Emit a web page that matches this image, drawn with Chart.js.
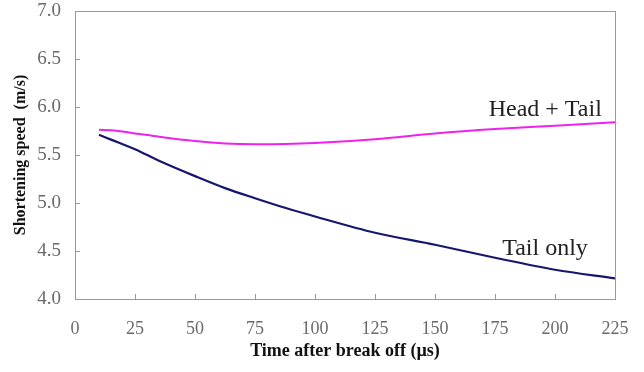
<!DOCTYPE html>
<html>
<head>
<meta charset="utf-8">
<script src="https://cdn.jsdelivr.net/npm/chart.js@4.4.0/dist/chart.umd.min.js"></script>
<style>
  html, body { margin: 0; padding: 0; background: #fff; }
  #wrap { width: 644px; height: 372px; }
</style>
</head>
<body>
<div id="wrap"><canvas id="chart"></canvas></div>
<script>
// time after break off (µs)
const times = [10, 15, 25, 35, 50, 62.5, 75, 87.5, 100, 125, 150, 175, 200, 225];
// shortening speed (m/s)
const headTail = [5.762, 5.758, 5.725, 5.69, 5.645, 5.62, 5.612, 5.614, 5.624, 5.664, 5.724, 5.77, 5.805, 5.84];
const tailOnly = [5.71, 5.66, 5.56, 5.44, 5.28, 5.155, 5.05, 4.95, 4.86, 4.69, 4.565, 4.43, 4.305, 4.215];
const xTicks = [0, 25, 50, 75, 100, 125, 150, 175, 200, 225];
const yTicks = [4.0, 4.5, 5.0, 5.5, 6.0, 6.5, 7.0];

const serif = '"Liberation Serif", "Times New Roman", serif';

// box around the plot + ticks pointing inward
const frame = {
  id: 'frame',
  afterDraw(chart) {
    const { ctx, chartArea: a, scales: { x, y } } = chart;
    ctx.save();
    ctx.strokeStyle = '#9a9a9a';
    ctx.lineWidth = 1;
    ctx.strokeRect(a.left + 0.5, a.top + 0.5, a.right - a.left, a.bottom - a.top);
    ctx.beginPath();
    xTicks.forEach(v => {
      const px = Math.round(x.getPixelForValue(v)) + 0.5;
      ctx.moveTo(px, a.bottom);
      ctx.lineTo(px, a.bottom - 5);
    });
    yTicks.forEach(v => {
      const py = Math.round(y.getPixelForValue(v)) + 0.5;
      ctx.moveTo(a.left, py);
      ctx.lineTo(a.left + 5, py);
    });
    ctx.stroke();

    // series labels
    ctx.fillStyle = '#222';
    ctx.font = '24px ' + serif;
    ctx.textBaseline = 'alphabetic';
    ctx.textAlign = 'right';
    ctx.fillText('Head + Tail', x.getPixelForValue(219.5), y.getPixelForValue(5.905));
    ctx.textAlign = 'left';
    ctx.fillText('Tail only', x.getPixelForValue(178), y.getPixelForValue(4.455));
    ctx.restore();
  }
};

new Chart(document.getElementById('chart'), {
  type: 'line',
  data: {
    datasets: [
      {
        label: 'Head + Tail',
        data: times.map((t, i) => ({ x: t, y: headTail[i] })),
        borderColor: '#ee22ee',
        borderWidth: 2,
        pointRadius: 0,
        cubicInterpolationMode: 'monotone'
      },
      {
        label: 'Tail only',
        data: times.map((t, i) => ({ x: t, y: tailOnly[i] })),
        borderColor: '#16166e',
        borderWidth: 2.2,
        pointRadius: 0,
        cubicInterpolationMode: 'monotone'
      }
    ]
  },
  options: {
    responsive: true,
    maintainAspectRatio: false,
    animation: false,
    layout: { padding: { left: 0, right: 29, top: 11, bottom: 0 } },
    plugins: {
      legend: { display: false },
      tooltip: { enabled: false }
    },
    scales: {
      x: {
        type: 'linear',
        min: 0,
        max: 225,
        afterBuildTicks: s => { s.ticks = xTicks.map(v => ({ value: v })); },
        afterFit: s => { s.height = 73; s.paddingLeft = 0; s.paddingRight = 0; },
        grid: { display: false, drawTicks: false },
        border: { display: false },
        ticks: {
          padding: 19,
          color: '#6a6a6a',
          font: { family: serif, size: 18 }
        },
        title: {
          display: true,
          text: 'Time after break off (µs)',
          color: '#111',
          font: { family: serif, size: 18, weight: 'bold' },
          padding: { top: 0, bottom: 10 }
        }
      },
      y: {
        min: 4,
        max: 7,
        afterBuildTicks: s => { s.ticks = yTicks.map(v => ({ value: v })); },
        afterFit: s => { s.width = 75; s.paddingTop = 0; s.paddingBottom = 0; },
        grid: { display: false, drawTicks: false },
        border: { display: false },
        ticks: {
          padding: 14,
          color: '#6a6a6a',
          font: { family: serif, size: 19 },
          callback: v => Number(v).toFixed(1)
        },
        title: {
          display: true,
          text: 'Shortening speed  (m/s)',
          color: '#111',
          font: { family: serif, size: 16, weight: 'bold' },
          padding: { top: 11, bottom: 0 }
        }
      }
    }
  },
  plugins: [frame]
});
</script>
</body>
</html>
